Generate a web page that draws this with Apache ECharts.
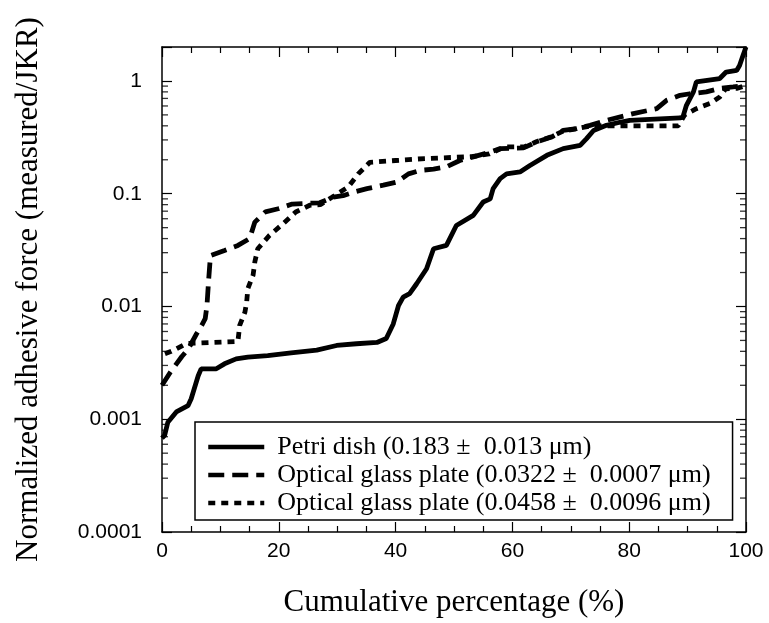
<!DOCTYPE html>
<html><head><meta charset="utf-8">
<script src="https://cdn.jsdelivr.net/npm/echarts@6/dist/echarts.min.js"></script>
<style>html,body{margin:0;padding:0;background:#fff}#c{width:769px;height:623px}</style>
</head><body><div id="c"></div>
<script>
// Petri dish (solid)
const petriX = [0, 0.45, 1.0, 2.45, 4.45, 5.0, 6.2, 6.7, 9.3, 10.7, 12.7, 14.7, 18.1, 22.1, 26.5, 29.9, 33.3, 36.8, 38.4, 39.6, 40.5, 41.3, 42.4, 43.6, 45.3, 46.5, 48.7, 50.4, 53.3, 55.0, 56.2, 56.7, 57.9, 59.0, 61.3, 63.0, 65.9, 68.7, 71.6, 72.7, 73.9, 76.1, 78.4, 80.1, 88.7, 89.2, 89.8, 91.0, 91.5, 95.5, 96.6, 98.4, 98.9, 99.5, 100];
const petriY = [0.00068, 0.00072, 0.00094, 0.00116, 0.00132, 0.00152, 0.00243, 0.0028, 0.0028, 0.0031, 0.00343, 0.00356, 0.00367, 0.00388, 0.0041, 0.00451, 0.00467, 0.0048, 0.0052, 0.0070, 0.0102, 0.0121, 0.013, 0.0159, 0.0216, 0.0325, 0.0348, 0.0523, 0.0642, 0.0844, 0.090, 0.111, 0.136, 0.150, 0.156, 0.178, 0.219, 0.251, 0.268, 0.308, 0.364, 0.404, 0.43, 0.447, 0.47, 0.48, 0.608, 0.80, 0.98, 1.05, 1.2, 1.24, 1.37, 1.69, 2.0];
// Optical glass plate 0.0322 (dashed)
const glassAX = [0, 1.4, 3.4, 4.5, 5.9, 6.8, 7.4, 7.7, 8.0, 8.3, 10.7, 13.0, 15.0, 15.9, 17.7, 19.9, 22.3, 24.4, 27.0, 29.3, 31.0, 33.0, 35.1, 37.9, 40.2, 42.2, 44.2, 46.5, 48.7, 51.0, 53.3, 56.2, 57.9, 61.9, 64.2, 66.7, 68.7, 71.0, 73.3, 76.1, 80.7, 84.7, 86.4, 88.7, 90.4, 93.2, 95.5, 97.8, 100];
const glassAY = [0.002, 0.0026, 0.0036, 0.0042, 0.0057, 0.0068, 0.0078, 0.0102, 0.0176, 0.0283, 0.0314, 0.0348, 0.040, 0.056, 0.069, 0.0736, 0.081, 0.082, 0.083, 0.093, 0.096, 0.104, 0.111, 0.119, 0.127, 0.150, 0.161, 0.165, 0.173, 0.197, 0.212, 0.234, 0.251, 0.255, 0.288, 0.318, 0.364, 0.377, 0.404, 0.447, 0.513, 0.568, 0.673, 0.745, 0.77, 0.80, 0.86, 0.885, 0.91];
// Optical glass plate 0.0458 (dotted)
const glassBX = [0.5, 1.6, 4.2, 8.4, 13.0, 13.3, 14.2, 14.5, 14.7, 15.6, 15.9, 16.4, 18.4, 20.7, 22.9, 25.3, 27.1, 29.1, 31.9, 33.6, 35.6, 40.0, 45.0, 50.0, 53.0, 56.0, 58.7, 62.0, 64.2, 66.7, 68.7, 71.0, 73.5, 80.0, 88.4, 89.5, 91.5, 93.8, 95.5, 96.5, 98.4, 100];
const glassBY = [0.0038, 0.0040, 0.0047, 0.0048, 0.0049, 0.0068, 0.0089, 0.011, 0.0144, 0.019, 0.0249, 0.0325, 0.0427, 0.054, 0.0688, 0.079, 0.080, 0.093, 0.115, 0.150, 0.19, 0.197, 0.205, 0.21, 0.213, 0.225, 0.26, 0.26, 0.29, 0.32, 0.36, 0.377, 0.40, 0.40, 0.40, 0.50, 0.568, 0.63, 0.72, 0.85, 0.86, 0.91];

const seriesNames = ['Petri dish (0.183 \u00B1  0.013 \u03BCm)', 'Optical glass plate (0.0322 \u00B1  0.0007 \u03BCm)', 'Optical glass plate (0.0458 \u00B1  0.0096 \u03BCm)'];
const xTicks = [0, 20, 40, 60, 80, 100];
const yMinorTicks = [0.0002,0.0003,0.0004,0.0005,0.0006,0.0007,0.0008,0.0009,
  0.002,0.003,0.004,0.005,0.006,0.007,0.008,0.009,
  0.02,0.03,0.04,0.05,0.06,0.07,0.08,0.09,
  0.2,0.3,0.4,0.5,0.6,0.7,0.8,0.9];

const zip = (xs, ys) => xs.map((x, i) => [x, ys[i]]);
const serifFont = "'Liberation Serif', 'Times New Roman', serif";
const sansFont = "'Liberation Sans', Arial, sans-serif";

const chart = echarts.init(document.getElementById('c'), null, {renderer: 'canvas'});
const axisLine = {show: true, onZero: false, lineStyle: {color: '#000', width: 1.5}};
const logLabel = v => {
  const l = Math.log10(v);
  return Math.abs(l - Math.round(l)) < 1e-6 ? String(+v.toPrecision(6)) : '';
};
const xBase = {
  type: 'value', min: 0, max: 100, interval: 20,
  axisLine: axisLine,
  axisTick: {show: true, inside: true, length: 10, lineStyle: {color: '#000', width: 1.2}},
  minorTick: {show: true, splitNumber: 4, length: 6, lineStyle: {color: '#000', width: 1.2}},
  splitLine: {show: false}
};
const yBase = {
  type: 'log', logBase: 10, min: 0.0001, max: 2,
  axisLine: axisLine,
  axisTick: {show: true, inside: true, length: 10, lineStyle: {color: '#000', width: 1.2}},
  splitLine: {show: false}
};
const tickSeries = (edge, offset) => ({
  type: 'scatter', silent: true, z: 10, clip: false,
  data: yMinorTicks.map(v => [edge, v]),
  symbol: 'rect', symbolSize: [6, 1.3], symbolOffset: [offset, 0],
  itemStyle: {color: '#000'}, emphasis: {disabled: true}
});

chart.setOption({
  animation: false,
  backgroundColor: '#fff',
  grid: {left: 162, right: 23, top: 47, bottom: 91},
  xAxis: [
    Object.assign({}, xBase, {
      position: 'bottom',
      name: 'Cumulative percentage (%)', nameLocation: 'middle', nameGap: 55,
      nameTextStyle: {fontFamily: serifFont, fontSize: 31, color: '#000'},
      axisLabel: {show: true, margin: 9, fontFamily: sansFont, fontSize: 21, color: '#000',
        formatter: v => xTicks.includes(v) ? String(v) : ''}
    }),
    Object.assign({}, xBase, {position: 'top', axisLabel: {show: false}})
  ],
  yAxis: [
    Object.assign({}, yBase, {
      position: 'left',
      name: 'Normalized adhesive force (measured/JKR)', nameLocation: 'middle', nameGap: 118,
      nameTextStyle: {fontFamily: serifFont, fontSize: 31, color: '#000'},
      axisLabel: {show: true, margin: 20, fontFamily: sansFont, fontSize: 21, color: '#000', formatter: logLabel}
    }),
    Object.assign({}, yBase, {position: 'right', axisLabel: {show: false}})
  ],
  legend: {
    data: seriesNames,
    orient: 'vertical', left: 195, top: 422,
    padding: [12, 22, 4, 11],
    itemWidth: 56, itemHeight: 20, itemGap: 2,
    borderColor: '#000', borderWidth: 1.5, borderRadius: 0,
    backgroundColor: '#fff',
    itemStyle: {color: 'rgba(0,0,0,0)', borderWidth: 0, opacity: 0},
    lineStyle: {width: 4.5},
    textStyle: {fontFamily: serifFont, fontSize: 26, color: '#000', padding: [0, 0, 0, 8]}
  },
  series: [
    {name: seriesNames[0], type: 'line', data: zip(petriX, petriY), showSymbol: false, symbol: 'none',
      lineStyle: {color: '#000', width: 4.8, type: 'solid'}, itemStyle: {color: '#000'}, z: 3},
    {name: seriesNames[1], type: 'line', data: zip(glassAX, glassAY), showSymbol: false, symbol: 'none',
      lineStyle: {color: '#000', width: 4.8, type: [16, 8], cap: 'butt'}, itemStyle: {color: '#000'}, z: 3},
    {name: seriesNames[2], type: 'line', data: zip(glassBX, glassBY), showSymbol: false, symbol: 'none',
      lineStyle: {color: '#000', width: 4.8, type: [7, 6], cap: 'butt'}, itemStyle: {color: '#000'}, z: 3},
    tickSeries(0, 3),
    tickSeries(100, -3)
  ]
});
</script>
</body></html>
